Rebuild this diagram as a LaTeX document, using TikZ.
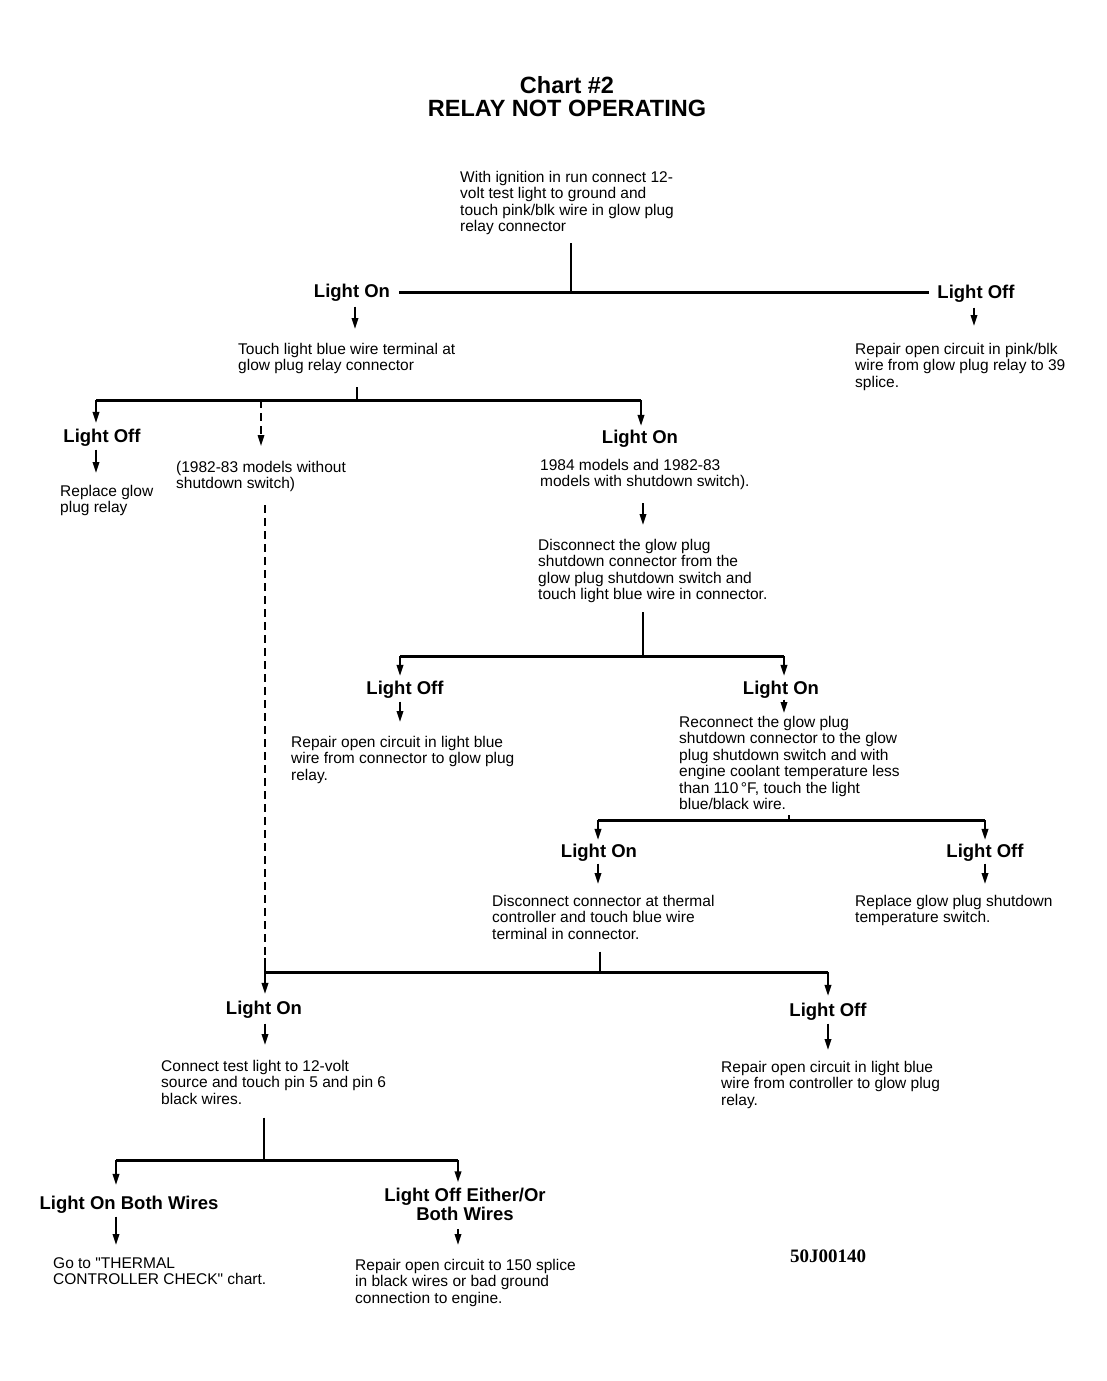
\documentclass[tikz,border=0pt]{standalone}
\usepackage{fontspec}
\setmainfont{Liberation Sans}
\newfontfamily\codefont{Liberation Serif}
\usetikzlibrary{arrows.meta}
\begin{document}
\begin{tikzpicture}[x=1pt,y=-1pt,
  txt/.style={anchor=north west,inner sep=0pt,align=left,
    font=\fontsize{15.5}{16.5}\selectfont,execute at begin node=\strut},
  lbl/.style={anchor=base,inner sep=0pt,font=\fontsize{18.5}{19}\selectfont\bfseries},
  lbl2/.style={anchor=north,inner sep=0pt,align=center,
    font=\fontsize{18.5}{19}\selectfont\bfseries,execute at begin node=\strut},
  ttl/.style={anchor=base,inner sep=0pt,font=\fontsize{23.5}{25}\selectfont\bfseries},
  bar/.style={line width=3pt},
  stem/.style={line width=2.5pt},
  arr/.style={line width=2pt,-{Triangle[length=11pt,width=6.5pt]}},
  darr/.style={line width=1.6pt,dash pattern=on 8pt off 5pt,-{Triangle[length=11pt,width=6.5pt]}},
  dline/.style={line width=1.6pt,dash pattern=on 8pt off 5pt},
]
\useasboundingbox (0,0) rectangle (1107,1381);

% title
\node[ttl] (title1) at (567,93) {Chart \#2};
\node[ttl] (title2) at (567,116) {RELAY NOT OPERATING};

% text blocks
\node[txt] (t0) at (460,171) {With ignition in run connect 12-\\volt test light to ground and\\touch pink/blk wire in glow plug\\relay connector};
\node[txt] (t1) at (238,343) {Touch light blue wire terminal at\\glow plug relay connector};
\node[txt] (t2) at (855,343) {Repair open circuit in pink/blk\\wire from glow plug relay to 39\\splice.};
\node[txt] (t3a) at (60,485) {Replace glow\\plug relay};
\node[txt] (t3) at (176,461) {(1982-83 models without\\shutdown switch)};
\node[txt] (t4) at (540,459) {1984 models and 1982-83\\models with shutdown switch).};
\node[txt] (t5) at (538,539) {Disconnect the glow plug\\shutdown connector from the\\glow plug shutdown switch and\\touch light blue wire in connector.};
\node[txt] (t6) at (291,736) {Repair open circuit in light blue\\wire from connector to glow plug\\relay.};
\node[txt] (t7) at (679,716) {Reconnect the glow plug\\shutdown connector to the glow\\plug shutdown switch and with\\engine coolant temperature less\\than 110\,°F, touch the light\\blue/black wire.};
\node[txt] (t8) at (492,895) {Disconnect connector at thermal\\controller and touch blue wire\\terminal in connector.};
\node[txt] (t9) at (855,895) {Replace glow plug shutdown\\temperature switch.};
\node[txt] (t10) at (161,1060) {Connect test light to 12-volt\\source and touch pin 5 and pin 6\\black wires.};
\node[txt] (t11) at (721,1061) {Repair open circuit in light blue\\wire from controller to glow plug\\relay.};
\node[txt] (t12) at (53,1257) {Go to \textquotedbl THERMAL\\CONTROLLER CHECK\textquotedbl{} chart.};
\node[txt] (t13) at (355,1259) {Repair open circuit to 150 splice\\in black wires or bad ground\\connection to engine.};

% labels
\node[lbl] (lon1) at (352,297.5) {Light On};
\node[lbl] (loff1) at (976,298.5) {Light Off};
\node[lbl] (loff2) at (102,442.5) {Light Off};
\node[lbl] (lon2) at (640,443.5) {Light On};
\node[lbl] (loff3) at (405,694.5) {Light Off};
\node[lbl] (lon3) at (781,694.5) {Light On};
\node[lbl] (lon4) at (599,857.5) {Light On};
\node[lbl] (loff4) at (985,857.5) {Light Off};
\node[lbl] (lon5) at (264,1014.5) {Light On};
\node[lbl] (loff5) at (828,1016.5) {Light Off};
\node[lbl] (lob) at (129,1209.5) {Light On Both Wires};
\node[lbl2] (lofe) at (465,1188.3) {Light Off Either/Or\\Both Wires};

\node[anchor=base,inner sep=0pt,font=\codefont\fontsize{19}{20}\selectfont\bfseries] (code) at (828,1262) {50J00140};

% junction coordinates
\coordinate (j0) at (571,293);
\coordinate (j1) at (357,400);
\coordinate (b1L) at (96,400);
\coordinate (b1D) at (261,400);
\coordinate (b1R) at (641,400);
\coordinate (dx) at (265,500);
\coordinate (j2) at (643,656);
\coordinate (b2L) at (400,656);
\coordinate (b2R) at (784,656);
\coordinate (j3) at (789,820);
\coordinate (b3L) at (598,820);
\coordinate (b3R) at (985,820);
\coordinate (dmid) at (265,958);
\coordinate (b4L) at (265,972);
\coordinate (j4) at (600,972);
\coordinate (b4R) at (828,972);
\coordinate (j5) at (264,1160);
\coordinate (b5L) at (116,1160);
\coordinate (b5R) at (458,1160);

% level 1
\draw[stem,shorten <=6pt] (t0.south -| j0) -- (j0);
\draw[bar,shorten <=9pt,shorten >=8pt] (lon1.east) -- (lon1.east -| loff1.west);
\draw[arr,shorten <=5pt,shorten >=14pt] (lon1.south) ++(3,0) coordinate (a1) -- (a1 |- t1.north);
\draw[arr,shorten <=5pt,shorten >=17pt] (loff1.south) ++(-2,0) coordinate (a2) -- (a2 |- t2.north);

% level 2
\draw[stem,shorten <=11pt] (t1.south -| j1) -- (j1);
\draw[bar] (b1L) -- (b1R);
\draw[arr,shorten >=6pt] (b1L) -- (b1L |- loff2.north);
\draw[darr,shorten >=15pt] (b1D) -- (b1D |- t3.north);
\draw[arr,shorten >=4pt] (b1R) -- (b1R |- lon2.north);
\draw[arr,shorten <=3pt,shorten >=12pt] (b1L |- loff2.south) -- (b1L |- t3a.north);

% dashed branch
\draw[dline,shorten <=11pt] (t3.south -| dx) -- (dmid);
\draw[stem] (dmid) -- (b4L);

% right branch
\draw[arr,shorten <=11pt,shorten >=14pt] (t4.south -| j2) -- (t5.north -| j2);
\draw[stem,shorten <=7pt] (t5.south -| j2) -- (j2);
\draw[bar] (b2L) -- (b2R);
\draw[arr,shorten >=5pt] (b2L) -- (b2L |- loff3.north);
\draw[arr,shorten >=5pt] (b2R) -- (b2R |- lon3.north);
\draw[arr,shorten <=3pt,shorten >=14pt] (b2L |- loff3.south) -- (b2L |- t6.north);
\draw[arr,shorten <=1pt,shorten >=3pt] (lon3.south -| b2R) -- (b2R |- t7.north);

\draw[line width=1.2pt] (t7.south -| j3) -- (j3);
\draw[bar] (b3L) -- (b3R);
\draw[arr,shorten >=4pt] (b3L) -- (b3L |- lon4.north);
\draw[arr,shorten >=4pt] (b3R) -- (b3R |- loff4.north);
\draw[arr,shorten <=2pt,shorten >=11pt] (b3L |- lon4.south) -- (b3L |- t8.north);
\draw[arr,shorten <=2pt,shorten >=11pt] (b3R |- loff4.south) -- (b3R |- t9.north);

\draw[stem,shorten <=7pt] (t8.south -| j4) -- (j4);
\draw[bar] (b4L) -- (b4R);
\draw[arr,shorten >=7pt] (b4L) -- (b4L |- lon5.north);
\draw[arr,shorten >=7pt] (b4R) -- (b4R |- loff5.north);
\draw[arr,shorten <=5pt,shorten >=15pt] (b4L |- lon5.south) -- (b4L |- t10.north);
\draw[arr,shorten <=3pt,shorten >=11pt] (b4R |- loff5.south) -- (b4R |- t11.north);

% bottom
\draw[stem,shorten <=8pt] (t10.south -| j5) -- (j5);
\draw[bar] (b5L) -- (b5R);
\draw[arr,shorten >=11pt] (b5L) -- (b5L |- lob.north);
\draw[arr,shorten >=6pt] (b5R) -- (b5R |- lofe.north);
\draw[arr,shorten <=3pt,shorten >=12pt] (b5L |- lob.south) -- (b5L |- t12.north);
\draw[arr,shorten <=2pt,shorten >=14pt] (b5R |- lofe.south) -- (b5R |- t13.north);
\end{tikzpicture}
\end{document}
